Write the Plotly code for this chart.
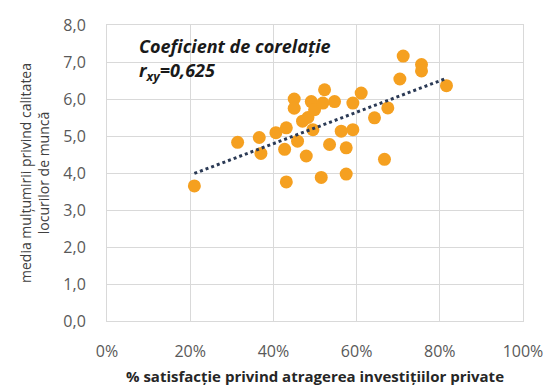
import numpy as np
import plotly.graph_objects as go

# % satisfaction (x) and mean satisfaction score (y)
x_pct = [21.0, 31.4, 36.6, 37.0, 40.6, 43.1, 42.7, 43.1, 45.0, 45.0,
         45.8, 47.9, 48.3, 49.1, 49.9, 52.3, 51.9, 54.7, 53.5, 56.3,
         59.1, 57.5, 51.5, 57.5, 59.1, 61.1, 64.3, 66.7, 67.5, 70.4,
         71.2, 75.6, 75.6, 81.6, 49.5, 47.0]
y_val = [3.65, 4.83, 4.96, 4.53, 5.09, 5.22, 4.64, 3.76, 6.00, 5.75,
         4.86, 4.46, 5.50, 5.93, 5.71, 6.25, 5.89, 5.93, 4.77, 5.13,
         5.17, 4.68, 3.88, 3.97, 5.89, 6.16, 5.49, 4.37, 5.76, 6.54,
         7.16, 6.93, 6.76, 6.36, 5.17, 5.40]

x_ticks = [0, 20, 40, 60, 80, 100]
x_tick_labels = ["0%", "20%", "40%", "60%", "80%", "100%"]
y_ticks = [0, 1, 2, 3, 4, 5, 6, 7, 8]
y_tick_labels = ["0,0", "1,0", "2,0", "3,0", "4,0", "5,0", "6,0", "7,0", "8,0"]

slope, intercept = np.polyfit(x_pct, y_val, 1)
tx = [min(x_pct), max(x_pct)]
ty = [slope * v + intercept for v in tx]

fig = go.Figure()
fig.add_trace(go.Scatter(x=x_pct, y=y_val, mode="markers",
                         marker=dict(color="#F5A020", size=13, line=dict(width=0)),
                         showlegend=False))
fig.add_trace(go.Scatter(x=tx, y=ty, mode="lines",
                         line=dict(color="#2B3A55", width=3, dash="dot"),
                         showlegend=False))

fig.add_annotation(x=0, y=1, xref="x domain", yref="paper", xanchor="left", yanchor="middle",
                   xshift=30, yshift=-21,
                   text="<b><i>Coeficient de corelație</i></b>", showarrow=False,
                   font=dict(size=18, color="#1a1a1a", family="Open Sans"))
fig.add_annotation(x=0, y=1, xref="x domain", yref="paper", xanchor="left", yanchor="middle",
                   xshift=30, yshift=-46,
                   text="<b><i>r<sub>xy</sub>=0,625</i></b>", showarrow=False,
                   font=dict(size=18, color="#1a1a1a", family="Open Sans"))

fig.update_layout(
    width=547, height=388,
    margin=dict(l=107, r=24, t=25, b=67),
    paper_bgcolor="white", plot_bgcolor="white",
    font=dict(family="Open Sans", color="#595959", size=15),
    xaxis=dict(range=[0, 100], tickvals=x_ticks, ticktext=x_tick_labels,
               automargin=False,
               showgrid=True, gridcolor="#D9D9D9", gridwidth=1, zeroline=False,
               showline=True, linecolor="#D9D9D9", mirror=True, ticks="",
               ticklabelstandoff=16,
               tickfont=dict(size=16, color="#595959"),
               title=dict(text="<b>% satisfacție privind atragerea investițiilor private</b>",
                          font=dict(size=15, color="#262626"), standoff=10)),
    yaxis=dict(range=[0, 8], tickvals=y_ticks, ticktext=y_tick_labels,
               automargin=False,
               showgrid=True, gridcolor="#D9D9D9", gridwidth=1, zeroline=False,
               showline=True, linecolor="#D9D9D9", mirror=True, ticks="",
               ticklabelstandoff=17,
               tickfont=dict(size=16, color="#595959"),
               title=dict(text="media mulțumirii privind calitatea<br>locurilor de muncă",
                          font=dict(size=14, color="#404040"), standoff=10)),
)

fig.write_html("out.html", config={"displayModeBar": False},
               post_script="document.body.style.margin='0px';")
